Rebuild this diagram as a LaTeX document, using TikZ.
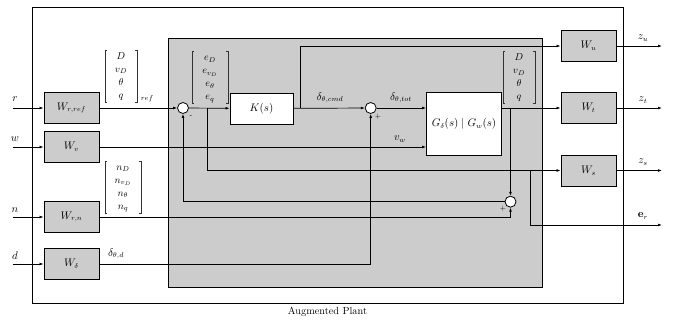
\documentclass[tikz,border=0pt]{standalone}
\usetikzlibrary{arrows.meta,calc}
\renewcommand{\arraystretch}{1.08}
\newcommand{\vbrack}[1]{%
  \draw[brk] ($(#1.north west)+(2.5,0)$) -- (#1.north west) -- (#1.south west) -- ($(#1.south west)+(2.5,0)$);
  \draw[brk] ($(#1.north east)+(-2.5,0)$) -- (#1.north east) -- (#1.south east) -- ($(#1.south east)+(-2.5,0)$);}
\begin{document}
\begin{tikzpicture}[x=1pt,y=-1pt,
  >={Latex[length=4pt,width=2.8pt]},
  every node/.style={font=\fontsize{10.5}{12}\selectfont},
  sig/.style={line width=0.7pt},
  brk/.style={line width=0.5pt,black!80},
  wblock/.style={draw,line width=0.8pt,fill=black!20,minimum width=55pt,minimum height=31pt,inner sep=0pt},
  wbox/.style={draw,line width=0.8pt,fill=white,inner sep=0pt},
  sumc/.style={draw,circle,line width=0.8pt,fill=white,minimum size=11pt,inner sep=0pt},
  lbl/.style={inner sep=0pt},
  vec/.style={inner sep=0pt,font=\fontsize{10}{12}\selectfont}]
\useasboundingbox (0,0) rectangle (681,320);
% frames
\draw[line width=0.8pt] (32,7) rectangle (623,303);
\draw[line width=0.8pt,fill=black!20] (168,38) rectangle (542,287);
\node[lbl] (aug) at (327.5,312) {\fontsize{10.3}{12}\selectfont Augmented Plant};
% blocks
\node[wblock] (Wref) at (71.5,108) {$W_{r,ref}$};
\node[wblock] (Wv) at (71.5,147) {$W_v$};
\node[wblock] (Wrn) at (71.5,217) {$W_{r,n}$};
\node[wblock] (Wd) at (71.5,264) {$W_\delta$};
\node[wblock] (Wu) at (588.5,46) {$W_u$};
\node[wblock] (Wt) at (588.5,108) {$W_t$};
\node[wblock] (Ws) at (588.5,170.5) {$W_s$};
\node[wbox,minimum width=63pt,minimum height=31pt] (K) at (261.5,108.5) {$K(s)$};
\node[wbox,minimum width=75pt,minimum height=62.5pt] (G) at (464,124) {$G_\delta(s)\mid G_w(s)$};
\node[sumc] (s1) at (183,108) {};
\node[sumc] (s2) at (370.7,108) {};
\node[sumc] (s3) at (510.5,201.7) {};
% coordinates
\coordinate (rin) at (13,108);
\coordinate (win) at (13,147);
\coordinate (nin) at (13,217);
\coordinate (din) at (13,264);
\coordinate (b1) at (207,108);
\coordinate (b3) at (300.7,108);
\coordinate (b4) at (510.5,108);
\coordinate (b2) at (530,170.5);
\coordinate (zu) at (662,46);
\coordinate (zt) at (662,108);
\coordinate (zs) at (662,170.5);
\coordinate (er) at (662,225);
% inputs
\draw[sig,->] (rin) -- (Wref);
\draw[sig,->] (win) -- (Wv);
\draw[sig,->] (nin) -- (Wrn);
\draw[sig,->] (din) -- (Wd);
\node[lbl] (lr) at (15,99) {$r$};
\node[lbl] (lw) at (15,139) {$w$};
\node[lbl] (ln) at (15,210) {$n$};
\node[lbl] (ld) at (15,256) {$d$};
% main path
\draw[sig,->] (Wref) -- (s1);
\draw[sig,->] (s1) -- (K);
\draw[sig,->] (K) -- (s2);
\draw[sig,->] (s2) -- (s2 -| G.west);
\draw[sig,->] (Wv) -- (Wv -| G.west);
\draw[sig,->] (G.east |- Wt) -- (Wt);
\draw[sig,->] (b3) |- (Wu);
\draw[sig,->] (b1) |- (Ws);
\draw[sig,->] (b2) |- (er);
\draw[sig,->] (b4) -- (s3);
\draw[sig,->] (s3) -| (s1);
\draw[sig,->] (Wrn) -| (s3);
\draw[sig,->] (Wd) -| (s2);
% outputs
\draw[sig,->] (Wu) -- (zu);
\draw[sig,->] (Wt) -- (zt);
\draw[sig,->] (Ws) -- (zs);
\node[lbl] (lzu) at (643,38) {$z_u$};
\node[lbl] (lzt) at (643,100) {$z_t$};
\node[lbl] (lzs) at (643,162) {$z_s$};
\node[lbl] (ler) at (643,216) {$\mathbf{e}_r$};
% signs
\node[lbl] (m1) at (191,117) {\scriptsize -};
\node[lbl] (p2) at (378,117) {\scriptsize $+$};
\node[lbl] (p3) at (503,209) {\scriptsize $+$};
% signal labels
\node[lbl] (lcmd) at (330,98) {$\delta_{\theta,cmd}$};
\node[lbl] (ltot) at (401,98) {$\delta_{\theta,tot}$};
\node[lbl] (lvw) at (400,139) {$v_w$};
\node[lbl] (ldd) at (116,254) {$\delta_{\theta,d}$};
% vectors
\node[vec,minimum width=32pt,minimum height=52pt] (vref) at (121,76) {$\begin{array}{c}D\\ v_D\\ \theta\\ q\end{array}$};
\node[lbl] (lref) at (147,99) {\scriptsize $ref$};
\node[vec,minimum width=36pt,minimum height=51pt] (ve) at (210,77.5) {$\begin{array}{c}e_D\\ e_{v_D}\\ e_\theta\\ e_q\end{array}$};
\node[vec,minimum width=32pt,minimum height=51pt] (vy) at (519,77.5) {$\begin{array}{c}D\\ v_D\\ \theta\\ q\end{array}$};
\node[vec,minimum width=36pt,minimum height=52pt] (vn) at (123,187) {$\begin{array}{c}n_D\\ n_{v_D}\\ n_\theta\\ n_q\end{array}$};
\vbrack{vref}
\vbrack{ve}
\vbrack{vy}
\vbrack{vn}
\end{tikzpicture}
\end{document}
